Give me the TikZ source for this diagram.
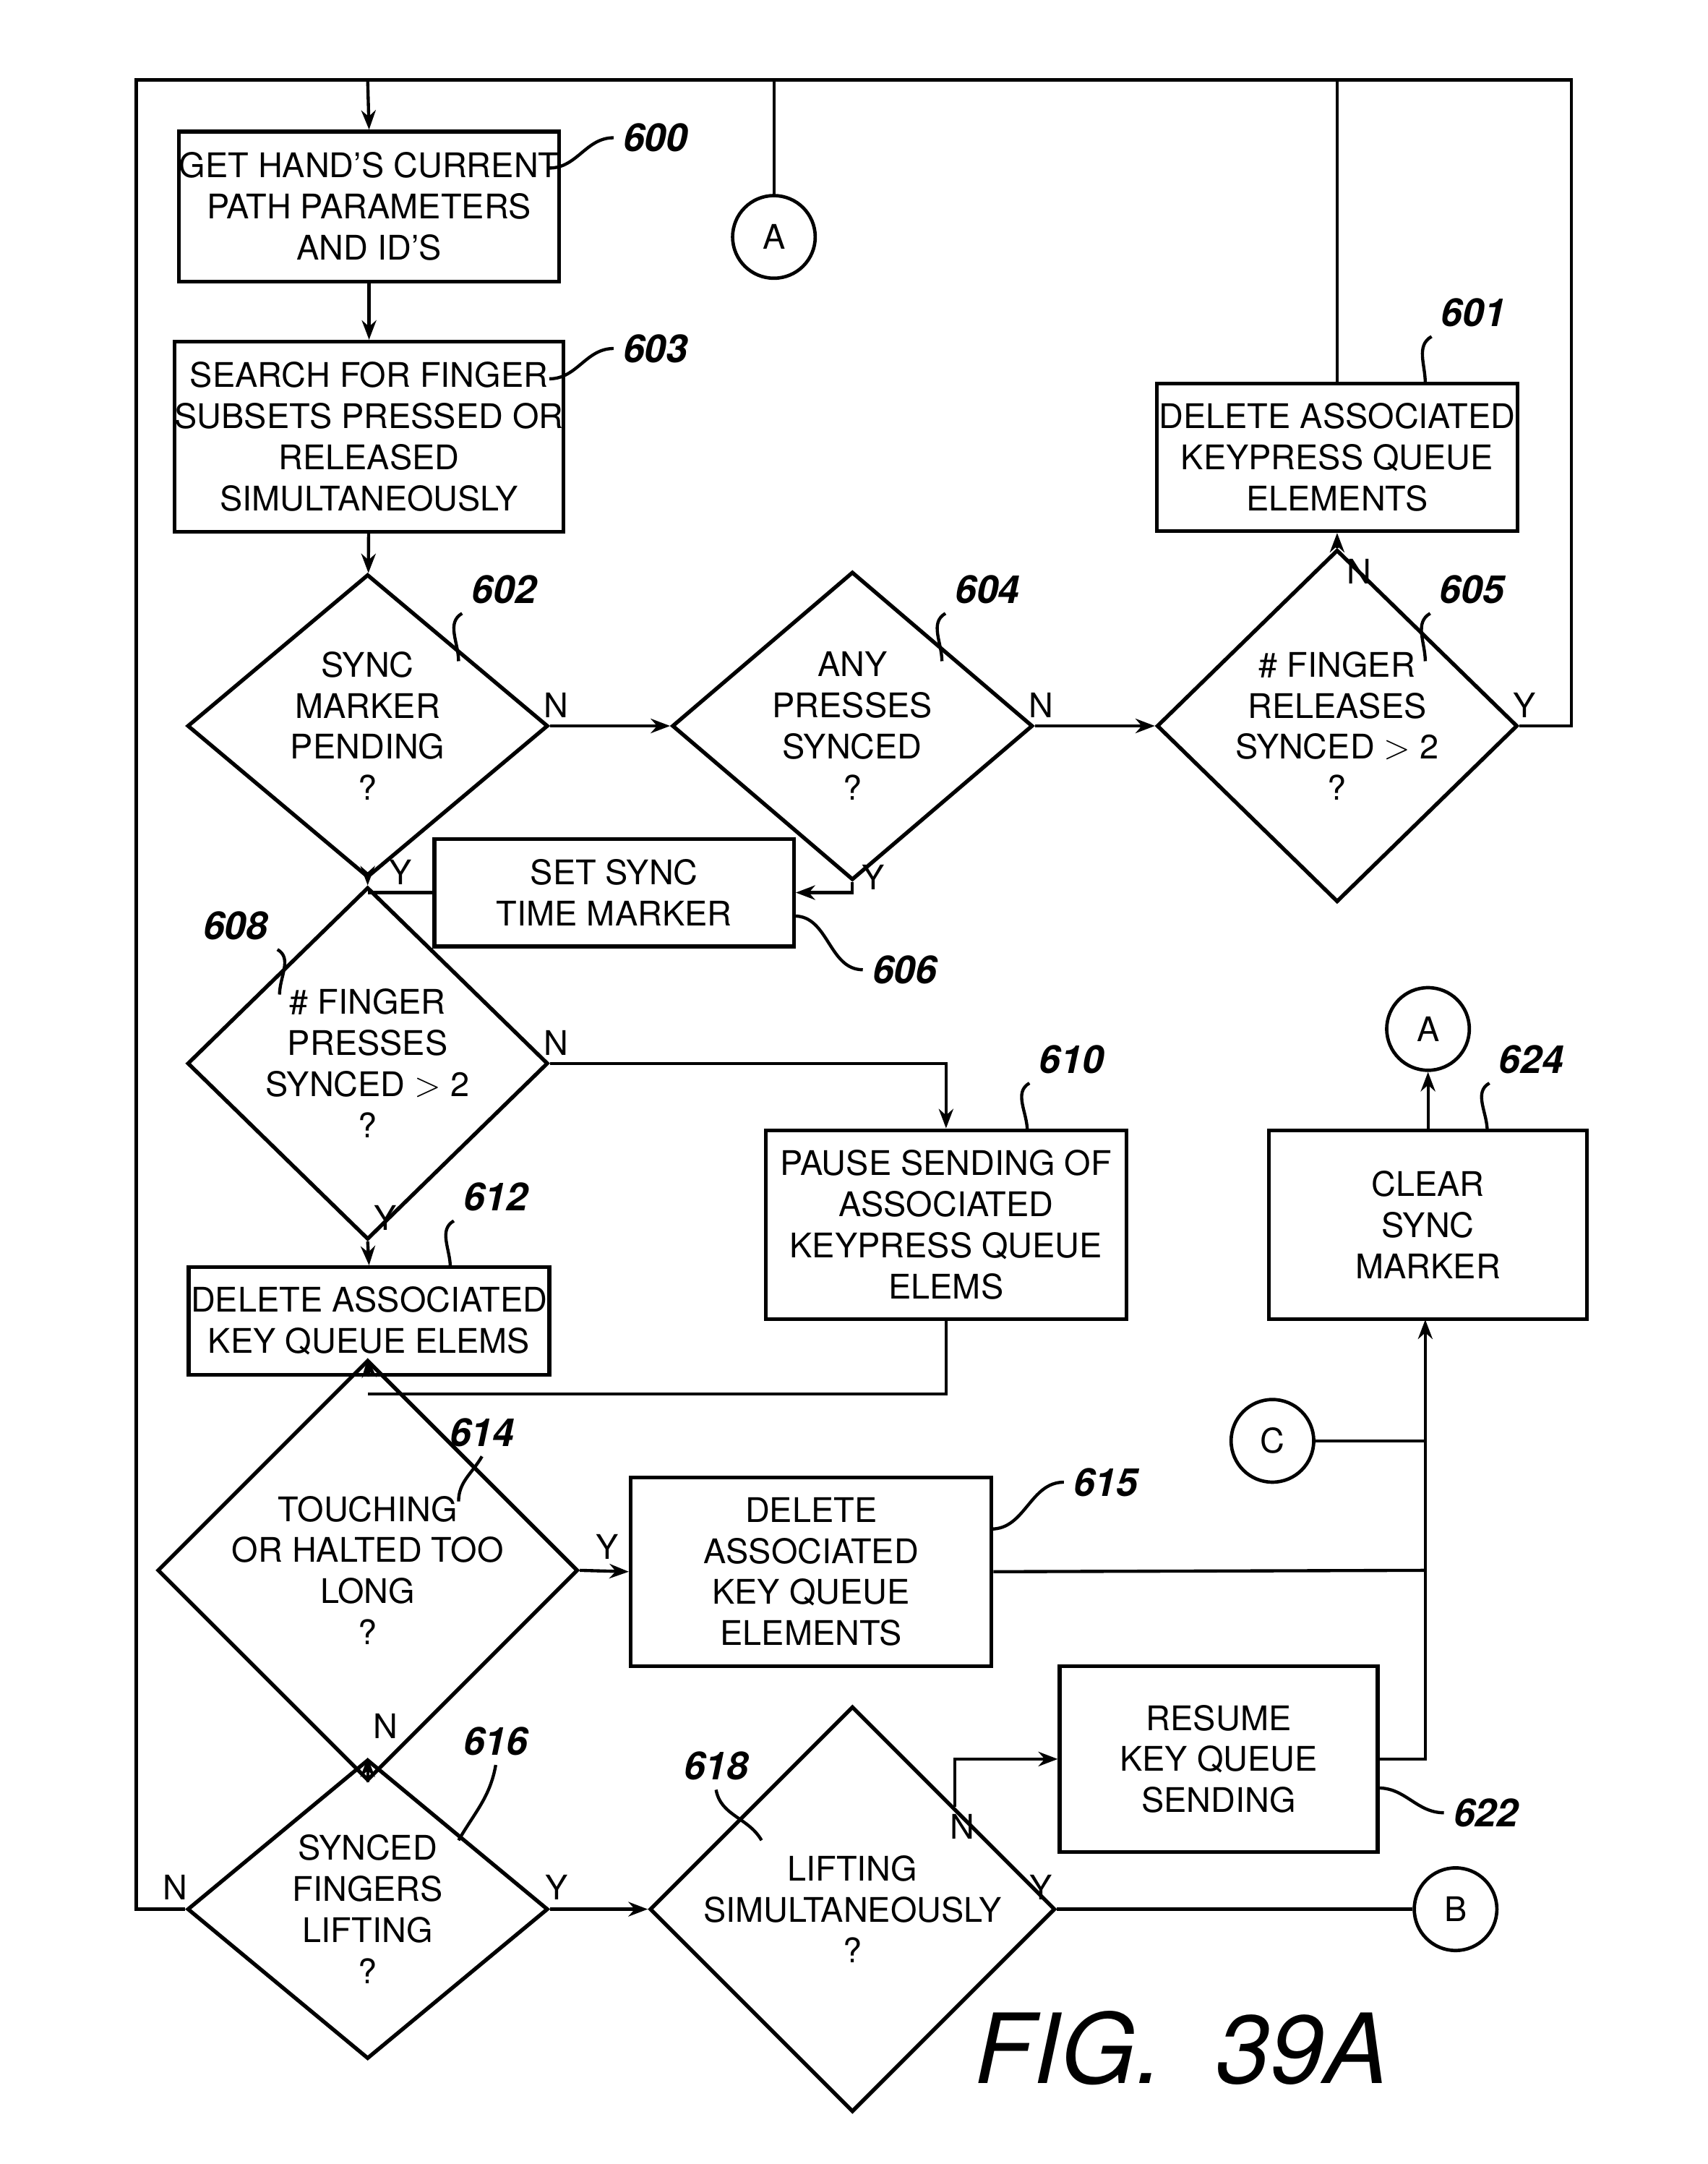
\documentclass[tikz,border=0pt]{standalone}
\usepackage{fontspec}
\setmainfont{TeX Gyre Heros}
\usetikzlibrary{positioning}
\usetikzlibrary{calc}
\usetikzlibrary{shapes.geometric}
\usetikzlibrary{arrows.meta}
\tikzset{
  box/.style      = { rectangle, draw, line width=1.6pt, align=center, inner sep=0pt },
  process/.style  = { box, minimum width=5.24cm, minimum height=2.18cm },
  small/.style    = { box, minimum width=5.22cm, minimum height=1.56cm },
  test/.style     = { diamond, draw, line width=1.6pt, align=center, inner sep=0pt,
                      minimum width=5.24cm, minimum height=3.9cm },
  conn/.style     = { circle, draw, line width=1.4pt, minimum size=1.2cm, inner sep=0pt },
  ref/.style      = { font=\fontsize{16}{16}\selectfont\bfseries\itshape },
  yn/.style       = { font=\fontsize{14}{14}\selectfont, inner sep=1pt },
  lead/.style     = { line width=1.3pt },
}
\begin{document}
\begin{tikzpicture}[
  x=0.02cm,y=-0.02cm,
  line width=1.3pt,>={Stealth[length=8pt,width=6pt]},
  font=\fontsize{14}{17}\selectfont
]
  \useasboundingbox (0,0) rectangle (1240,1571);

  % process boxes
  \node (get)    [process] at (268,150)                              {GET HAND'S CURRENT\\PATH PARAMETERS\\AND ID'S};
  \node (search) [process,minimum height=2.76cm] at (268,317)        {SEARCH FOR FINGER\\SUBSETS PRESSED OR\\RELEASED\\SIMULTANEOUSLY};
  \node (delrel) [process,minimum height=2.14cm] at (971,332)        {DELETE ASSOCIATED\\KEYPRESS QUEUE\\ELEMENTS};
  \node (settime)[small] at (446,648)                                {SET SYNC\\TIME MARKER};
  \node (pause)  [process,minimum height=2.74cm] at (687,889)        {PAUSE SENDING OF\\ASSOCIATED\\KEYPRESS QUEUE\\ELEMS};
  \node (delkey) [small,minimum width=5.24cm] at (268,959)           {DELETE ASSOCIATED\\KEY QUEUE ELEMS};
  \node (deltch) [process,minimum height=2.74cm] at (589,1141)       {DELETE\\ASSOCIATED\\KEY QUEUE\\ELEMENTS};
  \node (resume) [process,minimum width=4.62cm,minimum height=2.7cm] at (885,1277)  {RESUME\\KEY QUEUE\\SENDING};
  \node (clear)  [process,minimum width=4.62cm,minimum height=2.74cm] at (1037,889) {CLEAR\\SYNC\\MARKER};

  % decisions
  \node (pending) [test] at (267,527)  {SYNC\\MARKER\\PENDING\\?};
  \node (presses) [test] at (619,527)  {ANY\\PRESSES\\SYNCED\\?};
  \node (release) [test] at (971,527)  {\# FINGER\\RELEASES\\SYNCED $>$ 2\\?};
  \node (numpress)[test,minimum height=3.84cm] at (267,772)  {\# FINGER\\PRESSES\\SYNCED $>$ 2\\?};
  \node (touch)   [test,minimum height=3.84cm] at (267,1140) {TOUCHING\\OR HALTED TOO\\LONG\\?};
  \node (lifting) [test,minimum height=3.86cm] at (267,1386) {SYNCED\\FINGERS\\LIFTING\\?};
  \node (simul)   [test,minimum height=3.86cm] at (619,1386) {LIFTING\\SIMULTANEOUSLY\\?};

  % connectors
  \node (ctopA) [conn] at (562,172)  {A};
  \node (cA)    [conn] at (1037,747) {A};
  \node (cC)    [conn] at (924,1046) {C};
  \node (cB)    [conn] at (1057,1386){B};

  \coordinate (tl) at (99,58);
  \coordinate (tr) at (1141,58);
  \coordinate (join1) at (267,648);
  \coordinate (join2) at (267,1012);
  \coordinate (bus) at (1035,1140);

  % flow
  \draw (lifting.west) -- (99,1386) -- (tl) -- (tr) |- (release.east);
  \draw [->] (267,58) -- (get.north);
  \draw (562,58) -- (ctopA.north);
  \draw (delrel.north) -- (971,58);
  \draw [->] (get) -- (search);
  \draw [->] (search) -- (pending);
  \draw [->] (pending.east) -- (presses.west);
  \draw [->] (presses.east) -- (release.west);
  \draw [->] (release.north) -- (delrel.south);
  \draw [->] (pending.south) -- (numpress.north);
  \draw (settime.west) -- (join1);
  \draw [->] (presses.south) |- (settime.east);
  \draw [->] (numpress.east) -| (pause.north);
  \draw [->] (numpress.south) -- (delkey.north);
  \draw [->] (delkey.south) -- (touch.north);
  \draw (pause.south) |- (join2);
  \draw [->] (touch.east) -- (deltch.west);
  \draw (deltch.east) -- (bus);
  \draw (cC.east) -- (1035,1046);
  \draw [->] (resume.east) -| (1035,958);
  \draw [->] (clear.north) -- (cA.south);
  \draw [->] (touch.south) -- (lifting.north);
  \draw [->] (lifting.east) -- (simul.west);
  \draw [->] ($(simul.north)!0.5!(simul.east)$) |- (resume.west);
  \draw (simul.east) -- (cB.west);

  % Y / N marks
  \node [yn] at (404,512)  {N};
  \node [yn] at (756,512)  {N};
  \node [yn] at (987,415)  {N};
  \node [yn] at (1107,512) {Y};
  \node [yn] at (291,633)  {Y};
  \node [yn] at (634,637)  {Y};
  \node [yn] at (404,757)  {N};
  \node [yn] at (280,884)  {Y};
  \node [yn] at (441,1123) {Y};
  \node [yn] at (280,1253) {N};
  \node [yn] at (127,1370) {N};
  \node [yn] at (404,1370) {Y};
  \node [yn] at (699,1326) {N};
  \node [yn] at (756,1370) {Y};

  % reference numbers
  \node (r600) [ref] at (476,100)  {600};
  \node (r603) [ref] at (476,253)  {603};
  \node (r601) [ref] at (1070,227) {601};
  \node (r602) [ref] at (366,428)  {602};
  \node (r604) [ref] at (717,428)  {604};
  \node (r605) [ref] at (1069,428) {605};
  \node (r606) [ref] at (657,704)  {606};
  \node (r608) [ref] at (171,672)  {608};
  \node (r610) [ref] at (778,769)  {610};
  \node (r612) [ref] at (360,869)  {612};
  \node (r614) [ref] at (350,1040) {614};
  \node (r615) [ref] at (803,1076) {615};
  \node (r616) [ref] at (360,1264) {616};
  \node (r618) [ref] at (520,1282) {618};
  \node (r622) [ref] at (1079,1316){622};
  \node (r624) [ref] at (1112,769) {624};

  \draw [lead] (399,122)  to[out=0,in=180]   (r600.west);
  \draw [lead] (399,275)  to[out=0,in=180]   (r603.west);
  \draw [lead] (1035,278) to[out=90,in=-150] (r601.south west);
  \draw [lead] (333,480)  to[out=90,in=-150] (r602.south west);
  \draw [lead] (684,480)  to[out=90,in=-150] (r604.south west);
  \draw [lead] (1035,480) to[out=90,in=-150] (r605.south west);
  \draw [lead] (577,665)  to[out=0,in=180]   (r606.west);
  \draw [lead] (203,722)  to[out=90,in=-30]  (r608.south east);
  \draw [lead] (746,821)  to[out=90,in=-150] (r610.south west);
  \draw [lead] (327,920)  to[out=90,in=-150] (r612.south west);
  \draw [lead] (333,1090) to[out=90,in=-120] (r614.south);
  \draw [lead] (720,1110) to[out=0,in=180]   (r615.west);
  \draw [lead] (333,1336) to[out=60,in=-100] (r616.south);
  \draw [lead] (553,1336) to[out=120,in=-80] (r618.south);
  \draw [lead] (1001,1298) to[out=0,in=180]  (r622.west);
  \draw [lead] (1080,821) to[out=90,in=-150] (r624.south west);

  \node (fig) [font=\fontsize{40}{40}\selectfont\itshape] at (858,1487) {FIG.\ \ 39A};
\end{tikzpicture}
\end{document}
